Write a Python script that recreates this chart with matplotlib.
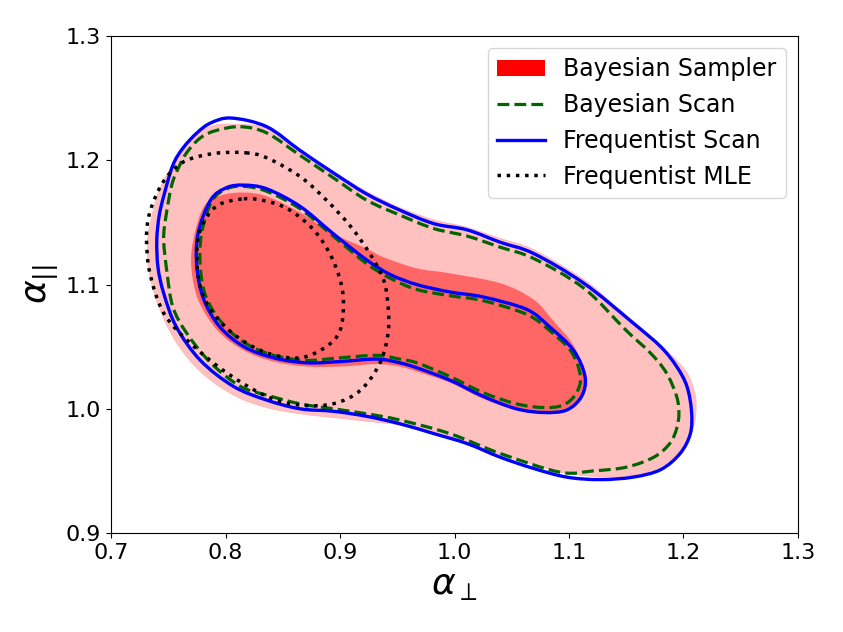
import numpy as np
import matplotlib
matplotlib.use('Agg')
import matplotlib.pyplot as plt
from matplotlib.path import Path
from matplotlib.patches import PathPatch, Patch
from matplotlib.lines import Line2D

# contour outlines (alpha_perp, alpha_par)
sampler_95_x = [0.805, 0.836, 0.865, 0.894, 0.923, 0.952, 0.982, 1.011, 1.040, 1.069, 1.113, 1.139, 1.162, 1.185, 1.203,
                1.210, 1.211, 1.209, 1.200, 1.185, 1.165, 1.136, 1.098, 1.069, 1.040, 1.011, 0.982, 0.952, 0.923, 0.894,
                0.865, 0.836, 0.807, 0.778, 0.756, 0.741, 0.733, 0.732, 0.737, 0.744, 0.759, 0.776, 0.790]
sampler_95_y = [1.229, 1.226, 1.208, 1.191, 1.175, 1.162, 1.152, 1.146, 1.137, 1.128, 1.104, 1.084, 1.066, 1.047, 1.029,
                1.012, 1.002, 0.986, 0.970, 0.956, 0.948, 0.945, 0.948, 0.955, 0.963, 0.972, 0.981, 0.987, 0.990, 0.993,
                0.996, 1.001, 1.011, 1.030, 1.055, 1.084, 1.112, 1.136, 1.160, 1.180, 1.204, 1.222, 1.228]

sampler_68_x = [0.816, 0.836, 0.865, 0.894, 0.923, 0.938, 0.967, 0.996, 1.040, 1.069, 1.086, 1.104, 1.113, 1.111, 1.097,
                1.078, 1.054, 1.025, 0.996, 0.967, 0.952, 0.932, 0.900, 0.871, 0.842, 0.816, 0.793, 0.776, 0.770, 0.773,
                0.782, 0.797]
sampler_68_y = [1.174, 1.171, 1.158, 1.141, 1.129, 1.122, 1.113, 1.109, 1.101, 1.088, 1.071, 1.051, 1.029, 1.010, 1.000,
                0.997, 0.999, 1.008, 1.021, 1.030, 1.034, 1.036, 1.034, 1.034, 1.038, 1.047, 1.063, 1.088, 1.116, 1.141,
                1.164, 1.172]

bscan_95_x = [0.813, 0.836, 0.865, 0.894, 0.923, 0.952, 0.982, 1.011, 1.040, 1.069, 1.113, 1.150, 1.171, 1.185, 1.194,
              1.196, 1.194, 1.188, 1.174, 1.150, 1.121, 1.092, 1.040, 0.996, 0.952, 0.923, 0.894, 0.865, 0.836, 0.813,
              0.787, 0.766, 0.754, 0.749, 0.746, 0.748, 0.753, 0.759, 0.766, 0.778, 0.792]
bscan_95_y = [1.227, 1.222, 1.204, 1.186, 1.168, 1.156, 1.145, 1.139, 1.130, 1.121, 1.097, 1.063, 1.045, 1.029, 1.010,
              0.996, 0.984, 0.972, 0.961, 0.953, 0.950, 0.949, 0.964, 0.980, 0.991, 0.996, 1.000, 1.004, 1.011, 1.018,
              1.037, 1.061, 1.082, 1.109, 1.136, 1.155, 1.180, 1.194, 1.206, 1.218, 1.224]

bscan_68_x = [0.816, 0.836, 0.865, 0.894, 0.923, 0.944, 0.967, 0.996, 1.025, 1.063, 1.083, 1.102, 1.110, 1.106, 1.095,
              1.078, 1.054, 1.025, 0.996, 0.967, 0.952, 0.932, 0.900, 0.871, 0.842, 0.817, 0.797, 0.783, 0.778, 0.779,
              0.788, 0.801]
bscan_68_y = [1.179, 1.175, 1.161, 1.139, 1.117, 1.105, 1.096, 1.091, 1.087, 1.076, 1.063, 1.046, 1.026, 1.012, 1.003,
              1.001, 1.004, 1.013, 1.026, 1.037, 1.040, 1.043, 1.041, 1.039, 1.043, 1.053, 1.069, 1.090, 1.114, 1.141,
              1.167, 1.177]

fscan_95_x = [0.805, 0.836, 0.865, 0.894, 0.923, 0.952, 0.982, 1.011, 1.040, 1.069, 1.113, 1.156, 1.180, 1.194, 1.203,
              1.207, 1.206, 1.197, 1.180, 1.156, 1.127, 1.098, 1.069, 1.040, 1.011, 0.982, 0.952, 0.923, 0.894, 0.865,
              0.836, 0.807, 0.778, 0.757, 0.746, 0.741, 0.740, 0.742, 0.746, 0.754, 0.763, 0.775, 0.787]
fscan_95_y = [1.234, 1.227, 1.208, 1.190, 1.173, 1.160, 1.149, 1.144, 1.134, 1.125, 1.101, 1.069, 1.050, 1.034, 1.018,
              0.998, 0.980, 0.964, 0.951, 0.945, 0.943, 0.945, 0.952, 0.961, 0.972, 0.980, 0.988, 0.994, 0.998, 1.000,
              1.007, 1.018, 1.039, 1.066, 1.093, 1.114, 1.136, 1.155, 1.171, 1.196, 1.210, 1.222, 1.230]

fscan_68_x = [0.816, 0.836, 0.865, 0.894, 0.923, 0.944, 0.967, 0.996, 1.025, 1.063, 1.083, 1.104, 1.114, 1.111, 1.098,
              1.078, 1.054, 1.025, 0.996, 0.967, 0.952, 0.932, 0.900, 0.871, 0.842, 0.816, 0.795, 0.781, 0.775, 0.776,
              0.787, 0.801]
fscan_68_y = [1.180, 1.177, 1.163, 1.141, 1.120, 1.108, 1.100, 1.094, 1.090, 1.080, 1.066, 1.047, 1.026, 1.010, 0.999,
              0.997, 1.000, 1.010, 1.023, 1.033, 1.037, 1.040, 1.038, 1.037, 1.041, 1.050, 1.066, 1.088, 1.114, 1.141,
              1.168, 1.178]

mle_95_x = [0.818, 0.836, 0.865, 0.888, 0.909, 0.926, 0.938, 0.942, 0.942, 0.935, 0.918, 0.894, 0.865, 0.836, 0.801,
            0.769, 0.746, 0.734, 0.731, 0.733, 0.740, 0.749, 0.762, 0.776, 0.795]
mle_95_y = [1.206, 1.202, 1.187, 1.168, 1.147, 1.125, 1.104, 1.082, 1.061, 1.037, 1.015, 1.004, 1.003, 1.010, 1.029,
            1.053, 1.077, 1.109, 1.136, 1.155, 1.173, 1.187, 1.198, 1.203, 1.206]

mle_68_x = [0.816, 0.836, 0.856, 0.877, 0.891, 0.900, 0.903, 0.900, 0.888, 0.865, 0.836, 0.810, 0.789, 0.778, 0.775,
            0.778, 0.792]
mle_68_y = [1.169, 1.167, 1.160, 1.144, 1.125, 1.104, 1.085, 1.063, 1.050, 1.041, 1.045, 1.058, 1.077, 1.098, 1.122,
            1.144, 1.163]

x_ticks = [0.7, 0.8, 0.9, 1.0, 1.1, 1.2, 1.3]
y_ticks = [0.9, 1.0, 1.1, 1.2, 1.3]
labels = ['Bayesian Sampler', 'Bayesian Scan', 'Frequentist Scan', 'Frequentist MLE']


def closedPath(xs, ys):
    # closed curve through the read-off points (Catmull-Rom as cubic bezier)
    pts = np.column_stack([xs, ys])
    n = len(pts)
    verts = [pts[0]]
    codes = [Path.MOVETO]
    for i in range(n):
        p0, p1, p2, p3 = pts[i - 1], pts[i], pts[(i + 1) % n], pts[(i + 2) % n]
        verts += [p1 + (p2 - p0) / 6.0, p2 - (p3 - p1) / 6.0, p2]
        codes += [Path.CURVE4] * 3
    verts.append(pts[0])
    codes.append(Path.CLOSEPOLY)
    return Path(verts, codes)


fig = plt.figure(figsize=(8.43, 6.32), dpi=100)
ax = fig.add_axes([0.1317, 0.1566, 0.8149, 0.7864])

ax.add_patch(PathPatch(closedPath(sampler_95_x, sampler_95_y), facecolor='#ffc0c0', edgecolor='#ffb0b0', lw=0.5))
ax.add_patch(PathPatch(closedPath(sampler_68_x, sampler_68_y), facecolor='#ff6666', edgecolor='none'))

for xs, ys in [(bscan_95_x, bscan_95_y), (bscan_68_x, bscan_68_y)]:
    ax.add_patch(PathPatch(closedPath(xs, ys), fill=False, edgecolor='darkgreen', lw=2.3, linestyle='--'))
for xs, ys in [(fscan_95_x, fscan_95_y), (fscan_68_x, fscan_68_y)]:
    ax.add_patch(PathPatch(closedPath(xs, ys), fill=False, edgecolor='blue', lw=2.4, linestyle='-'))
for xs, ys in [(mle_95_x, mle_95_y), (mle_68_x, mle_68_y)]:
    ax.add_patch(PathPatch(closedPath(xs, ys), fill=False, edgecolor='k', lw=2.5, linestyle=':'))

ax.set_xlim(0.7, 1.3)
ax.set_ylim(0.9, 1.3)
ax.set_xticks(x_ticks)
ax.set_yticks(y_ticks)
ax.tick_params(labelsize=16)
ax.set_xlabel(r'$\alpha_\perp$', fontsize=26)
ax.set_ylabel(r'$\alpha_{||}$', fontsize=26)

handles = [Patch(facecolor='red'),
           Line2D([0], [0], color='darkgreen', lw=2.3, linestyle='--'),
           Line2D([0], [0], color='blue', lw=2.4),
           Line2D([0], [0], color='k', lw=2.5, linestyle=':')]
ax.legend(handles, labels, loc='upper right', fontsize=17)

fig.savefig('out.png', dpi=100)
